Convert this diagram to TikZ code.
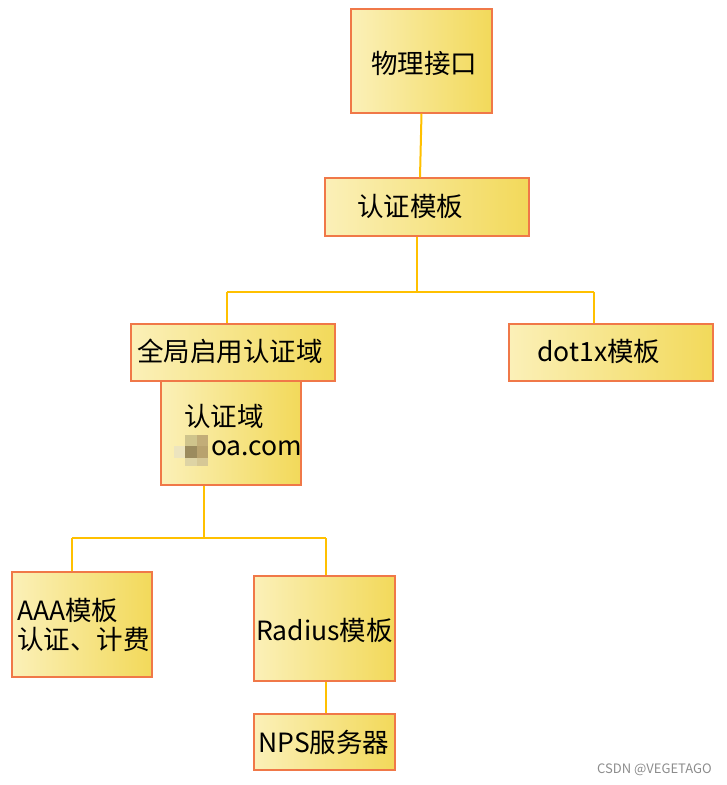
\documentclass[tikz,border=0pt]{standalone}
\usepackage{fontspec}
\setmainfont{Noto Sans CJK SC}
\definecolor{boxl}{HTML}{FBF0B8}
\definecolor{boxr}{HTML}{F2D95A}
\definecolor{boxline}{HTML}{F07848}
\definecolor{conn}{HTML}{FFC000}
\definecolor{wm}{HTML}{8C8C8C}
\tikzset{
  box/.style={rectangle, draw=boxline, line width=1.2pt, left color=boxl, right color=boxr, inner sep=0pt},
  lbl/.style={inner sep=0pt, font=\fontsize{26.5}{32}\selectfont, text=black},
  lbll/.style={lbl, anchor=west, align=left},
  connline/.style={draw=conn, line width=2pt},
}
\begin{document}
\begin{tikzpicture}[x=1pt,y=-1pt]
\useasboundingbox (0,0) rectangle (727,785);
% boxes
\node[box, minimum width=141, minimum height=104] (phys) at (421.5,61) {};
\node[box, minimum width=204, minimum height=58] (auth) at (427,207) {};
\node[box, minimum width=140, minimum height=104] (dom) at (231,433) {};
\node[box, minimum width=204, minimum height=57] (glob) at (233,352.5) {};
\node[box, minimum width=204, minimum height=57] (dot) at (611,352.5) {};
\node[box, minimum width=140, minimum height=105] (aaa) at (82,624.5) {};
\node[box, minimum width=141, minimum height=105] (rad) at (324.5,628.5) {};
\node[box, minimum width=141, minimum height=56] (nps) at (324.5,742) {};
% labels
\node[lbl] (tphys) at (424,63) {物理接口};
\node[lbl] (tauth) at (410,206) {认证模板};
\node[lbl] (tglob) at (230,351) {全局启用认证域};
\node[lbl] (tdot) at (599,351) {dot1x模板};
\node[lbll] (tdom1) at (184,416) {认证域};
\node[lbll] (tdom2) at (211,448) {oa.com};
\node[lbll] (taaa) at (17,625) {AAA模板\\[-3pt]认证、计费};
\node[lbl] (trad) at (324.5,630) {Radius模板};
\node[lbl] (tnps) at (324,742) {NPS服务器};
% mosaic blur
\fill[color={rgb,255:red,236;green,228;blue,190}] (174,446) rectangle (185,458);
\fill[color={rgb,255:red,207;green,196;blue,140}] (185,435) rectangle (197,446);
\fill[color={rgb,255:red,194;green,173;blue,120}] (197,435) rectangle (208,446);
\fill[color={rgb,255:red,155;green,139;blue,94}] (185,446) rectangle (197,458);
\fill[color={rgb,255:red,184;green,162;blue,110}] (197,446) rectangle (208,458);
\fill[color={rgb,255:red,222;green,212;blue,165}] (185,458) rectangle (197,466);
\fill[color={rgb,255:red,214;green,200;blue,150}] (197,458) rectangle (208,466);
% connectors
\coordinate (j1) at (417,292);
\coordinate (jl) at (227,292);
\coordinate (jr) at (594,292);
\coordinate (j2) at (204,538);
\coordinate (ka) at (72,538);
\coordinate (kb) at (326,538);
\draw[connline] (phys.south) -- (auth.north -| 420,0);
\draw[connline] (auth.south -| j1) -- (j1);
\draw[connline] (jl) -- (jr);
\draw[connline] (jl) -- (jl |- glob.north);
\draw[connline] (jr) -- (jr |- dot.north);
\draw[connline] (dom.south -| j2) -- (j2);
\draw[connline] (ka) -- (kb);
\draw[connline] (ka) -- (ka |- aaa.north);
\draw[connline] (kb) -- (kb |- rad.north);
\draw[connline] (rad.south -| kb) -- (nps.north -| kb);
% watermark
\node[inner sep=0pt, anchor=east, text=wm, font=\fontsize{13}{15}\selectfont] (wmk) at (712,770) {CSDN @VEGETAGO};
\end{tikzpicture}
\end{document}
